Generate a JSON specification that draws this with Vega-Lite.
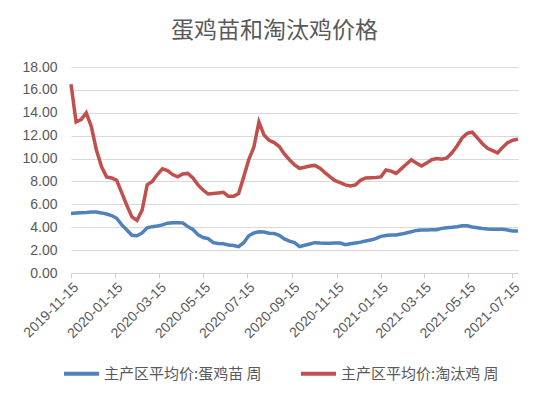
{
  "$schema": "https://vega.github.io/schema/vega-lite/v6.json",
  "width": 447,
  "height": 206,
  "autosize": "none",
  "padding": {"left": 71, "top": 67, "right": 32, "bottom": 126},
  "background": "white",
  "title": {
    "text": "蛋鸡苗和淘汰鸡价格",
    "font": "Noto Sans CJK SC",
    "fontSize": 23,
    "fontWeight": "normal",
    "color": "#595959",
    "anchor": "middle",
    "dx": -20,
    "offset": 17
  },
  "data": {
    "values": [
      {"date": "2019-11-15", "chick": 5.2, "hen": 16.5},
      {"date": "2019-11-22", "chick": 5.25, "hen": 13.2},
      {"date": "2019-11-29", "chick": 5.27, "hen": 13.4},
      {"date": "2019-12-06", "chick": 5.28, "hen": 14.0},
      {"date": "2019-12-13", "chick": 5.32, "hen": 12.8},
      {"date": "2019-12-20", "chick": 5.33, "hen": 10.75},
      {"date": "2019-12-27", "chick": 5.25, "hen": 9.3},
      {"date": "2020-01-03", "chick": 5.15, "hen": 8.4},
      {"date": "2020-01-10", "chick": 5.02, "hen": 8.3},
      {"date": "2020-01-17", "chick": 4.78, "hen": 8.1},
      {"date": "2020-01-24", "chick": 4.2, "hen": 7.0},
      {"date": "2020-01-31", "chick": 3.75, "hen": 5.9},
      {"date": "2020-02-07", "chick": 3.3, "hen": 4.9},
      {"date": "2020-02-14", "chick": 3.26, "hen": 4.6},
      {"date": "2020-02-21", "chick": 3.5, "hen": 5.5},
      {"date": "2020-02-28", "chick": 3.95, "hen": 7.7},
      {"date": "2020-03-06", "chick": 4.05, "hen": 8.0},
      {"date": "2020-03-13", "chick": 4.1, "hen": 8.6},
      {"date": "2020-03-20", "chick": 4.2, "hen": 9.1},
      {"date": "2020-03-27", "chick": 4.35, "hen": 8.95},
      {"date": "2020-04-03", "chick": 4.4, "hen": 8.6},
      {"date": "2020-04-10", "chick": 4.4, "hen": 8.4},
      {"date": "2020-04-17", "chick": 4.38, "hen": 8.65},
      {"date": "2020-04-24", "chick": 4.05, "hen": 8.7},
      {"date": "2020-05-01", "chick": 3.8, "hen": 8.3},
      {"date": "2020-05-08", "chick": 3.35, "hen": 7.7},
      {"date": "2020-05-15", "chick": 3.1, "hen": 7.25},
      {"date": "2020-05-22", "chick": 3.0, "hen": 6.9},
      {"date": "2020-05-29", "chick": 2.65, "hen": 6.95},
      {"date": "2020-06-05", "chick": 2.58, "hen": 7.0},
      {"date": "2020-06-12", "chick": 2.55, "hen": 7.05},
      {"date": "2020-06-19", "chick": 2.45, "hen": 6.7},
      {"date": "2020-06-26", "chick": 2.4, "hen": 6.7},
      {"date": "2020-07-03", "chick": 2.3, "hen": 6.95},
      {"date": "2020-07-10", "chick": 2.65, "hen": 8.4},
      {"date": "2020-07-17", "chick": 3.25, "hen": 9.9},
      {"date": "2020-07-24", "chick": 3.5, "hen": 11.0},
      {"date": "2020-07-31", "chick": 3.6, "hen": 13.2},
      {"date": "2020-08-07", "chick": 3.58, "hen": 12.05},
      {"date": "2020-08-14", "chick": 3.47, "hen": 11.6},
      {"date": "2020-08-21", "chick": 3.45, "hen": 11.4},
      {"date": "2020-08-28", "chick": 3.3, "hen": 11.05},
      {"date": "2020-09-04", "chick": 2.98, "hen": 10.4},
      {"date": "2020-09-11", "chick": 2.78, "hen": 9.9},
      {"date": "2020-09-18", "chick": 2.65, "hen": 9.45},
      {"date": "2020-09-25", "chick": 2.3, "hen": 9.15},
      {"date": "2020-10-02", "chick": 2.42, "hen": 9.24},
      {"date": "2020-10-09", "chick": 2.53, "hen": 9.35},
      {"date": "2020-10-16", "chick": 2.65, "hen": 9.4},
      {"date": "2020-10-23", "chick": 2.62, "hen": 9.15},
      {"date": "2020-10-30", "chick": 2.6, "hen": 8.77},
      {"date": "2020-11-06", "chick": 2.6, "hen": 8.4},
      {"date": "2020-11-13", "chick": 2.62, "hen": 8.07},
      {"date": "2020-11-20", "chick": 2.62, "hen": 7.9},
      {"date": "2020-11-27", "chick": 2.48, "hen": 7.7},
      {"date": "2020-12-04", "chick": 2.55, "hen": 7.6},
      {"date": "2020-12-11", "chick": 2.62, "hen": 7.7},
      {"date": "2020-12-18", "chick": 2.7, "hen": 8.1},
      {"date": "2020-12-25", "chick": 2.8, "hen": 8.3},
      {"date": "2021-01-01", "chick": 2.88, "hen": 8.33},
      {"date": "2021-01-08", "chick": 3.0, "hen": 8.35},
      {"date": "2021-01-15", "chick": 3.2, "hen": 8.4},
      {"date": "2021-01-22", "chick": 3.28, "hen": 9.0},
      {"date": "2021-01-29", "chick": 3.32, "hen": 8.9},
      {"date": "2021-02-05", "chick": 3.33, "hen": 8.7},
      {"date": "2021-02-12", "chick": 3.4, "hen": 9.1},
      {"date": "2021-02-19", "chick": 3.5, "hen": 9.5},
      {"date": "2021-02-26", "chick": 3.6, "hen": 9.9},
      {"date": "2021-03-05", "chick": 3.72, "hen": 9.6},
      {"date": "2021-03-12", "chick": 3.76, "hen": 9.35},
      {"date": "2021-03-19", "chick": 3.76, "hen": 9.6},
      {"date": "2021-03-26", "chick": 3.77, "hen": 9.9},
      {"date": "2021-04-02", "chick": 3.78, "hen": 10.0},
      {"date": "2021-04-09", "chick": 3.9, "hen": 9.95},
      {"date": "2021-04-16", "chick": 3.96, "hen": 10.05},
      {"date": "2021-04-23", "chick": 4.0, "hen": 10.5},
      {"date": "2021-04-30", "chick": 4.05, "hen": 11.1},
      {"date": "2021-05-07", "chick": 4.12, "hen": 11.8},
      {"date": "2021-05-14", "chick": 4.12, "hen": 12.2},
      {"date": "2021-05-21", "chick": 4.02, "hen": 12.3},
      {"date": "2021-05-28", "chick": 3.95, "hen": 11.8},
      {"date": "2021-06-04", "chick": 3.88, "hen": 11.3},
      {"date": "2021-06-11", "chick": 3.84, "hen": 10.9},
      {"date": "2021-06-18", "chick": 3.82, "hen": 10.7},
      {"date": "2021-06-25", "chick": 3.82, "hen": 10.5},
      {"date": "2021-07-02", "chick": 3.82, "hen": 11.0},
      {"date": "2021-07-09", "chick": 3.75, "hen": 11.4},
      {"date": "2021-07-16", "chick": 3.68, "hen": 11.6},
      {"date": "2021-07-23", "chick": 3.67, "hen": 11.7}
    ]
  },
  "transform": [{"fold": ["chick", "hen"], "as": ["series", "price"]}],
  "mark": {"type": "line", "strokeWidth": 3.5, "interpolate": "linear"},
  "encoding": {
    "x": {
      "field": "date",
      "type": "temporal",
      "scale": {"type": "utc", "domain": [{"year": 2019, "month": 11, "date": 15, "utc": true}, {"year": 2021, "month": 7, "date": 23, "utc": true}]},
      "axis": {
        "title": null,
        "format": "%Y-%m-%d",
        "values": [
          {"year": 2019, "month": 11, "date": 15, "utc": true},
          {"year": 2020, "month": 1, "date": 15, "utc": true},
          {"year": 2020, "month": 3, "date": 15, "utc": true},
          {"year": 2020, "month": 5, "date": 15, "utc": true},
          {"year": 2020, "month": 7, "date": 15, "utc": true},
          {"year": 2020, "month": 9, "date": 15, "utc": true},
          {"year": 2020, "month": 11, "date": 15, "utc": true},
          {"year": 2021, "month": 1, "date": 15, "utc": true},
          {"year": 2021, "month": 3, "date": 15, "utc": true},
          {"year": 2021, "month": 5, "date": 15, "utc": true},
          {"year": 2021, "month": 7, "date": 15, "utc": true}
        ],
        "labelAngle": -45,
        "labelFont": "Liberation Sans",
        "labelFontSize": 14,
        "labelColor": "#595959",
        "labelPadding": 2,
        "grid": false,
        "domainColor": "#d0d0d0",
        "tickColor": "#d0d0d0",
        "tickSize": 5,
        "labelOverlap": false,
        "labelFlush": false
      }
    },
    "y": {
      "field": "price",
      "type": "quantitative",
      "scale": {"domain": [0, 18], "nice": false},
      "axis": {
        "title": null,
        "values": [0, 2, 4, 6, 8, 10, 12, 14, 16, 18],
        "format": ".2f",
        "labelFont": "Liberation Sans",
        "labelFontSize": 14,
        "labelColor": "#595959",
        "labelPadding": 14,
        "domain": false,
        "ticks": false,
        "gridColor": "#d9d9d9",
        "gridWidth": 1
      }
    },
    "color": {
      "field": "series",
      "type": "nominal",
      "scale": {"domain": ["chick", "hen"], "range": ["#4F81BD", "#C0504D"]},
      "legend": {
        "title": null,
        "orient": "none",
        "direction": "horizontal",
        "legendX": -9,
        "legendY": 287,
        "symbolType": "stroke",
        "symbolSize": 1225,
        "symbolStrokeWidth": 4,
        "labelFont": "Noto Sans CJK SC",
        "labelFontSize": 15,
        "labelColor": "#595959",
        "labelLimit": 300,
        "labelOffset": 3,
        "columnPadding": 31,
        "labelExpr": "datum.label == 'chick' ? '主产区平均价:蛋鸡苗 周' : '主产区平均价:淘汰鸡 周'"
      }
    }
  },
  "config": {"view": {"stroke": null}}
}
